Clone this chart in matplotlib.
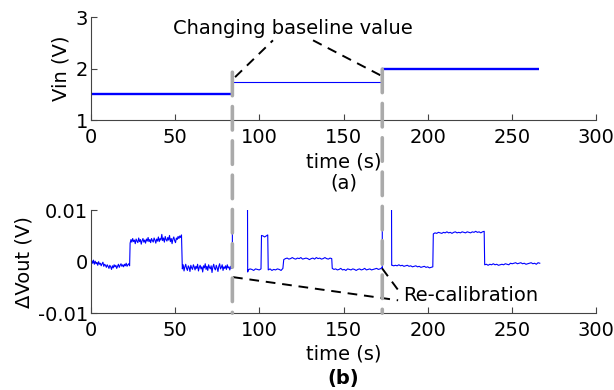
import numpy as np
import matplotlib
matplotlib.use("Agg")
import matplotlib.pyplot as plt
from matplotlib.patches import ConnectionPatch

plt.rcParams['font.family'] = ['DejaVu Sans']
plt.rcParams['font.size'] = 14

# (a) input voltage steps: (start, end, value)
vin_t0 = [0, 84, 173]
vin_t1 = [84, 173, 266]
vin_val = [1.5, 1.75, 2.0]
vin_lw = [1.7, 0.8, 1.7]

# recalibration instants
recal_t = [84, 173]

# (b) output change, in mV, per segment
seg_a = [-0.1, 0.2, -0.3, 0.3, -0.5, 0.1, -0.4, -0.2, -0.7, 0.0, -0.5, -0.3, -0.8, -0.4, -0.1,
         -0.9, -0.5, -0.7, -1.1, -0.6, -0.9, -1.3, -0.7, -1.0, -1.5, -0.8, -1.2, -0.6, -1.0, -0.7,
         -1.3, -0.9, -0.5, -1.1, -0.7, -0.4, -0.9, -0.6, -1.0, -0.5, -0.8, -0.3, -0.9, -0.6, -0.4, -0.8]
seg_b = [3.6, 4.3, 3.8, 4.5, 3.9, 4.2, 3.5, 4.4, 4.0, 3.7, 4.6, 3.9, 4.3, 3.4, 4.1, 4.5, 3.8, 4.2,
         3.6, 4.4, 4.0, 4.7, 3.9, 4.3, 3.7, 4.5, 4.1, 3.8, 4.6, 4.2, 3.6, 4.4, 4.0, 4.8, 3.9, 4.5,
         4.2, 5.3, 4.1, 4.6, 3.8, 4.9, 4.3, 4.0, 4.7, 4.2, 5.1, 3.9, 4.5, 3.5, 4.4, 4.8, 4.1, 3.7,
         4.6, 4.3, 4.9, 4.5, 5.0, 4.7, 5.2]
seg_c = [-1.4, -0.6, -1.8, -1.0, -0.5, -1.3, -1.7, -0.8, -1.1, -1.9, -0.7, -1.2, -1.5, -0.6, -1.0,
         -1.6, -0.9, -1.3, -0.5, -1.8, -1.1, -0.7, -1.4, -1.0, -2.0, -0.8, -1.2, -0.4, -1.5, -0.9,
         -1.7, -0.6, -1.1, -1.4, -0.8, -2.1, -1.0, -0.5, -1.3, -1.6, -0.7, -1.2, -1.9, -0.9, -0.4,
         -1.4, -1.1, -0.6, -1.7, -1.0, -1.3, -0.8, -1.5, -0.6, -1.2, -1.0, -1.6, -0.9, -1.3, -1.1]
seg_d = [-1.1, 8.6]
seg_e = [10.0, -2.0]
seg_f = [-1.6, -1.4, -1.5, -1.7, -1.4, -1.5, -1.6, -1.4]
seg_g = [5.1, 5.0, 4.8, 5.0, 5.2]
seg_h = [-1.6, -1.4, -1.7, -1.5, -1.6, -1.4, -1.5, -1.7, -1.3]
seg_i = [0.4, 0.6, 0.7, 0.5, 0.6, 0.8, 0.6, 0.5, 0.7, 0.6, 0.8, 0.5, 0.6, 0.7, 0.6, 0.4, 0.6, 0.7,
         0.5, 0.8, 0.6, 0.7, 0.5, 0.6, 0.8, 0.6, 0.5, 0.7, 0.6]
seg_j = [-1.3, -1.5, -1.4, -1.6, -1.5, -1.3, -1.6, -1.5, -1.7, -1.4, -1.5, -1.6, -1.4, -1.5, -1.7,
         -1.5, -1.4, -1.6, -1.5, -1.3, -1.6, -1.5, -1.4, -1.6, -1.5, -1.4, -1.3, -1.5, -1.4, -1.2]
seg_k = [-1.3, 9.6]
seg_l = [10.0, -0.7]
seg_m = [-0.7, -0.8, -0.7, -0.8, -0.6, -0.8, -0.7, -0.9, -0.8, -0.7, -0.9, -0.8, -1.0, -0.9, -0.8,
         -1.0, -0.9, -1.1, -1.0, -0.9, -1.1, -1.0, -1.2, -1.1, -1.0]
seg_n = [5.4, 5.6, 5.5, 5.7, 5.6, 5.5, 5.7, 5.6, 5.8, 5.6, 5.7, 5.5, 5.7, 5.8, 5.6, 5.7, 5.6, 5.8,
         5.7, 5.6, 5.8, 5.7, 5.6, 5.8, 5.7, 5.9, 5.7, 5.8, 5.6, 5.8, 5.9]
seg_o = [-0.6, -0.5, -0.7, -0.5, -0.6, -0.4, -0.6, -0.5, -0.7, -0.6, -0.5, -0.6, -0.4, -0.5, -0.6,
         -0.3, -0.4, -0.3, -0.2, -0.4, -0.3, -0.2, -0.4, -0.3, -0.5, -0.4, -0.3, -0.2, -0.4, -0.3,
         -0.5, -0.2, -0.3]

# time span of each segment (s); None marks a break in the trace
seg_vals = [seg_a, seg_b, seg_c, seg_d, None, seg_e, seg_f, seg_g, seg_h, seg_i, seg_j,
            seg_k, None, seg_l, seg_m, seg_n, seg_o]
seg_span = [(0, 23), (23.3, 53.8), (54.3, 84), (84, 84.01), None, (93, 93.1), (93.4, 101),
            (101.3, 105), (105.3, 114), (114.5, 143), (143.3, 172.7), (173, 173.01), None,
            (178.5, 178.6), (178.8, 203), (203.3, 233.5), (233.8, 266.5)]

t_out, v_out = [], []
for vals, span in zip(seg_vals, seg_span):
    if vals is None:
        t_out.append(np.nan)
        v_out.append(np.nan)
        continue
    t_out.extend(np.linspace(span[0], span[1], len(vals)))
    v_out.extend(np.array(vals) / 1000.0)

fig = plt.figure(figsize=(6.14, 3.90), dpi=100)
ax1 = fig.add_axes([0.148, 0.692, 0.823, 0.264])
ax2 = fig.add_axes([0.148, 0.197, 0.823, 0.264])

blue = '#0000ff'
for i in range(3):
    ax1.plot([vin_t0[i], vin_t1[i]], [vin_val[i], vin_val[i]], color=blue, lw=vin_lw[i],
             solid_capstyle='butt')
    if i > 0:
        ax1.plot([vin_t0[i], vin_t0[i]], [vin_val[i - 1], vin_val[i]], color=blue, lw=1.2)

ax2.plot(t_out, v_out, color=blue, lw=0.8)

for ax in (ax1, ax2):
    ax.set_xlim(0, 300)
    ax.set_xticks([0, 50, 100, 150, 200, 250, 300])
    ax.spines['top'].set_visible(False)
    ax.spines['right'].set_visible(False)
    ax.spines['left'].set_color('#444444')
    ax.spines['bottom'].set_color('#444444')
    ax.tick_params(direction='in', length=4, width=0.8, pad=2, colors='#444444',
                   labelcolor='black')
    ax.tick_params(axis='x', pad=5.5)
    ax.set_facecolor('none')

ax1.set_ylim(1, 3)
ax1.set_yticks([1, 2, 3])
ax1.set_ylabel('Vin (V)', labelpad=4)
ax1.set_xlabel('time (s)\n(a)', labelpad=4, linespacing=1.12)

ax2.set_ylim(-0.01, 0.01)
ax2.set_yticks([-0.01, 0, 0.01])
ax2.set_yticklabels(['-0.01', '0', '0.01'])
ax2.set_ylabel('ΔVout (V)', labelpad=3)
ax2.set_xlabel('time (s)', labelpad=3.5)
fig.text(0.148 + 0.823 * 0.5, 0.005, '(b)', ha='center', va='bottom', fontweight='bold')

# grey dashed markers across both panels
for tr, ytop in zip(recal_t, [1.93, 1.99]):
    con = ConnectionPatch(xyA=(tr, ytop), coordsA=ax1.transData,
                          xyB=(tr, -0.01), coordsB=ax2.transData,
                          color='#aaaaaa', lw=2.6, linestyle=(0, (6.5, 3)), zorder=5)
    fig.add_artist(con)

# annotations
ax1.text(120, 2.78, 'Changing baseline value', ha='center', va='center', clip_on=False)
ax1.plot([85.6, 108.1], [1.835, 2.55], color='black', lw=1.4, ls=(0, (5, 3.5)), clip_on=False)
ax1.plot([131.9, 172.9], [2.55, 1.854], color='black', lw=1.4, ls=(0, (5, 3.5)), clip_on=False)

ax2.text(185.5, -0.0066, 'Re-calibration', ha='left', va='center')
ax2.plot([84.4, 182.4], [-0.003, -0.0075], color='black', lw=1.4, ls=(0, (5, 3.5)))
ax2.plot([172.9, 182.4], [-0.0013, -0.0055], color='black', lw=1.4, ls=(0, (5, 3.5)))

fig.savefig('out.png', dpi=100, facecolor='white')
